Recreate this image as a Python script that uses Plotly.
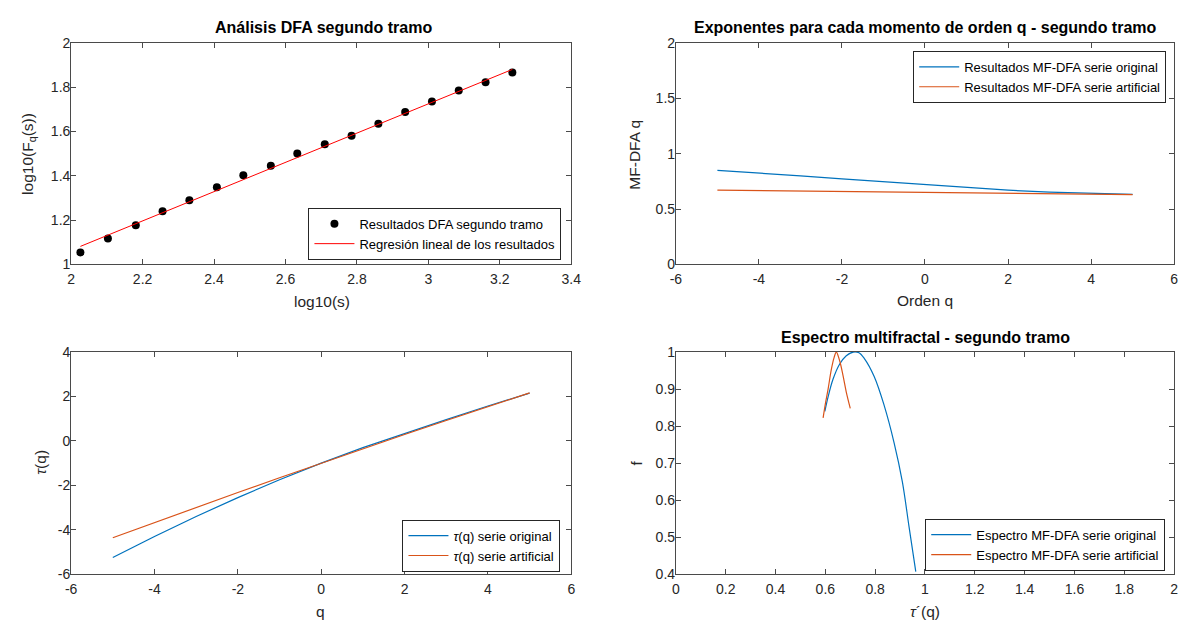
import plotly.graph_objects as go

# ---------------- data ----------------
# Panel 1: DFA segundo tramo
log_s = [2.026, 2.103, 2.181, 2.256, 2.331, 2.408, 2.482, 2.559, 2.633, 2.710,
         2.785, 2.860, 2.935, 3.010, 3.085, 3.160, 3.235]
log_Fq = [1.054, 1.117, 1.177, 1.240, 1.290, 1.348, 1.403, 1.446, 1.501, 1.543,
          1.581, 1.635, 1.688, 1.736, 1.786, 1.823, 1.867]
reg_x = [2.026, 3.235]
reg_y = [1.081, 1.881]

# Panel 2: h(q)
q_vals = [-5, -4, -3, -2, -1, 0, 1, 2, 3, 4, 4.5, 5]
h_original = [0.849, 0.826, 0.800, 0.773, 0.747, 0.721, 0.695, 0.670, 0.652, 0.643, 0.640, 0.632]
h_artificial = [0.671, 0.667, 0.663, 0.659, 0.655, 0.652, 0.648, 0.645, 0.641, 0.637, 0.634, 0.631]

# Panel 3: tau(q)
q_tau = [-5, -4, -3, -2, -1, 0, 1, 2, 3, 4, 5]
tau_original = [-5.25, -4.30, -3.40, -2.55, -1.75, -1.0, -0.30, 0.34, 0.96, 1.57, 2.15]
tau_artificial = [-4.36, -3.67, -2.99, -2.32, -1.66, -1.0, -0.35, 0.29, 0.92, 1.55, 2.16]

# Panel 4: multifractal spectrum
alpha_original = [0.598, 0.611, 0.631, 0.657, 0.684, 0.712, 0.735, 0.756, 0.796,
                  0.836, 0.876, 0.909, 0.936, 0.963]
f_original = [0.840, 0.879, 0.927, 0.967, 0.990, 1.000, 0.998, 0.983, 0.934,
              0.856, 0.755, 0.650, 0.528, 0.407]
alpha_artificial = [0.591, 0.600, 0.611, 0.624, 0.635, 0.644, 0.658, 0.671, 0.684, 0.700]
f_artificial = [0.822, 0.860, 0.900, 0.953, 0.985, 1.000, 0.975, 0.936, 0.892, 0.848]

# Tick labels (MATLAB style, ASCII hyphen minus)
ticks_x1 = ["2", "2.2", "2.4", "2.6", "2.8", "3", "3.2", "3.4"]
ticks_y1 = ["1", "1.2", "1.4", "1.6", "1.8", "2"]
ticks_q = ["-6", "-4", "-2", "0", "2", "4", "6"]
ticks_y2 = ["0", "0.5", "1", "1.5", "2"]
ticks_y3 = ["-6", "-4", "-2", "0", "2", "4"]
ticks_x4 = ["0", "0.2", "0.4", "0.6", "0.8", "1", "1.2", "1.4", "1.6", "1.8", "2"]
ticks_y4 = ["0.4", "0.5", "0.6", "0.7", "0.8", "0.9", "1"]

# ---------------- style ----------------
BLUE = "#0072BD"
ORANGE = "#D95319"
AX = "#262626"
LINE = "#4a4a4a"
FONT = "Liberation Sans, Arial, sans-serif"
W, H = 1192, 630

def px_x(p):
    return p / W

def px_y(p):
    return 1 - p / H

fig = go.Figure()

# Panel 1
fig.add_trace(go.Scatter(x=log_s, y=log_Fq, mode="markers",
                         marker=dict(color="black", size=8),
                         name="Resultados DFA segundo tramo",
                         xaxis="x", yaxis="y", legend="legend"))
fig.add_trace(go.Scatter(x=reg_x, y=reg_y, mode="lines",
                         line=dict(color="#FF0000", width=1),
                         name="Regresión lineal de los resultados",
                         xaxis="x", yaxis="y", legend="legend"))
# Panel 2
fig.add_trace(go.Scatter(x=q_vals, y=h_original, mode="lines",
                         line=dict(color=BLUE, width=1.2),
                         name="Resultados MF-DFA serie original",
                         xaxis="x2", yaxis="y2", legend="legend2"))
fig.add_trace(go.Scatter(x=q_vals, y=h_artificial, mode="lines",
                         line=dict(color=ORANGE, width=1.2),
                         name="Resultados MF-DFA serie artificial",
                         xaxis="x2", yaxis="y2", legend="legend2"))
# Panel 3
fig.add_trace(go.Scatter(x=q_tau, y=tau_original, mode="lines",
                         line=dict(color=BLUE, width=1.2),
                         name="<i>τ</i>(q) serie original",
                         xaxis="x3", yaxis="y3", legend="legend3"))
fig.add_trace(go.Scatter(x=q_tau, y=tau_artificial, mode="lines",
                         line=dict(color=ORANGE, width=1.2),
                         name="<i>τ</i>(q) serie artificial",
                         xaxis="x3", yaxis="y3", legend="legend3"))
# Panel 4
fig.add_trace(go.Scatter(x=alpha_original, y=f_original, mode="lines",
                         line=dict(color=BLUE, width=1.2, shape="spline"),
                         name="Espectro MF-DFA serie original",
                         xaxis="x4", yaxis="y4", legend="legend4"))
fig.add_trace(go.Scatter(x=alpha_artificial, y=f_artificial, mode="lines",
                         line=dict(color=ORANGE, width=1.2, shape="spline"),
                         name="Espectro MF-DFA serie artificial",
                         xaxis="x4", yaxis="y4", legend="legend4"))

col_l = [px_x(66), px_x(573)]
col_r = [px_x(679), px_x(1184)]
row_t = [px_y(263), px_y(36)]
row_b = [px_y(581), px_y(353)]

def axis(domain, rng, labels, anchor, standoff):
    vals = [float(t) for t in labels]
    return dict(domain=domain, range=rng, anchor=anchor,
                tickmode="array", tickvals=vals, ticktext=labels,
                showline=True, linecolor=LINE, linewidth=1, mirror="allticks",
                ticks="inside", ticklen=5, tickcolor=LINE, tickwidth=1,
                ticklabelstandoff=standoff,
                showgrid=False, zeroline=False,
                tickfont=dict(family=FONT, size=14, color=AX))

fig.update_layout(
    width=W, height=H,
    margin=dict(l=0, r=0, t=0, b=0),
    paper_bgcolor="white", plot_bgcolor="white",
    font=dict(family=FONT, color=AX),
    xaxis=axis(col_l, [2, 3.4], ticks_x1, "y", 2),
    yaxis=axis(row_t, [1, 2], ticks_y1, "x", -3),
    xaxis2=axis(col_r, [-6, 6], ticks_q, "y2", 2),
    yaxis2=axis(row_t, [0, 2], ticks_y2, "x2", -3),
    xaxis3=axis(col_l, [-6, 6], ticks_q, "y3", 2),
    yaxis3=axis(row_b, [-6, 4], ticks_y3, "x3", -3),
    xaxis4=axis(col_r, [0, 2], ticks_x4, "y4", 2),
    yaxis4=axis(row_b, [0.4, 1], ticks_y4, "x4", -3),
)

def legend(xr, yt, yanchor="top"):
    return dict(x=px_x(xr), y=px_y(yt), xanchor="right", yanchor=yanchor,
                bgcolor="white", bordercolor=AX, borderwidth=1,
                font=dict(family=FONT, size=13, color="black"),
                tracegroupgap=0, itemwidth=40)

fig.update_layout(
    legend=legend(563, 205),
    legend2=legend(1176, 44),
    legend3=legend(562, 525),
    legend4=legend(1175, 524),
)

anns = []
def text(s, xp, yp, size, bold=False, angle=0):
    anns.append(dict(text=("<b>%s</b>" % s) if bold else s,
                     x=px_x(xp), y=px_y(yp), xref="paper", yref="paper",
                     xanchor="center", yanchor="middle", showarrow=False,
                     textangle=angle,
                     font=dict(family=FONT, size=size, color="black" if bold else AX)))

# titles
text("Análisis DFA segundo tramo", 322, 20, 16, bold=True)
text("Exponentes para cada momento de orden q - segundo tramo", 932, 20, 16, bold=True)
text("Espectro multifractal - segundo tramo", 932, 338, 16, bold=True)
# axis labels
text("log10(s)", 320, 301, 15.5)
text("log10(F<sub>q</sub>(s))", 22, 150, 15.5, angle=-90)
text("Orden q", 932, 300, 15.5)
text("MF-DFA q", 637, 150, 15.5, angle=-90)
text("q", 319, 619, 15.5)
text("<i>τ</i>(q)", 35, 466, 15.5, angle=-90)
text("<i>τ</i>´(q)", 932, 619, 15.5)
text("f", 639, 467, 15.5, angle=-90)

fig.update_layout(annotations=anns)

fig.write_html("out.html")
